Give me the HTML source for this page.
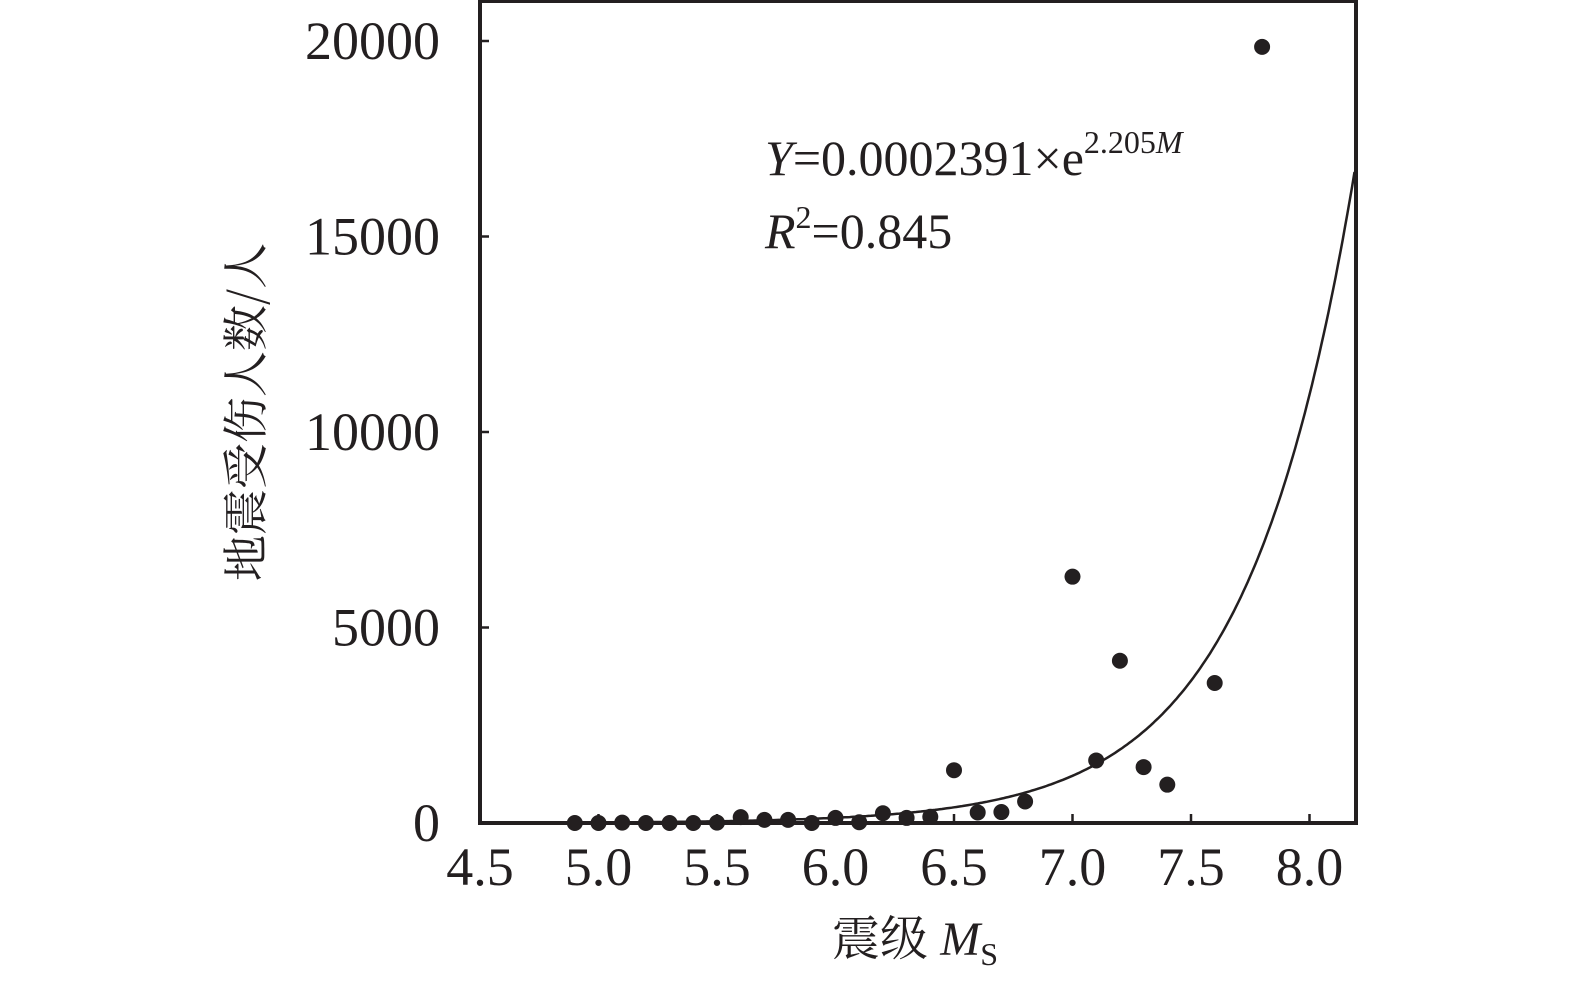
<!DOCTYPE html>
<html><head><meta charset="utf-8"><style>
html,body{margin:0;padding:0;background:#fff;}
svg{display:block;font-family:"Liberation Serif","Noto Serif CJK SC",serif;}
</style></head><body>
<svg id="chart" width="1575" height="988" viewBox="0 0 1575 988">
<g id="axes"></g>
<g id="marks"></g>
<text x="765" y="175" font-size="50" fill="#231f20"><tspan font-style="italic">Y</tspan>=0.0002391×e<tspan font-size="32" dy="-22">2.205<tspan font-style="italic">M</tspan></tspan></text>
<text x="765" y="248" font-size="50" fill="#231f20"><tspan font-style="italic">R</tspan><tspan font-size="32" dy="-20">2</tspan><tspan dy="20">=0.845</tspan></text>
<text transform="translate(262,412) rotate(-90)" text-anchor="middle" font-size="46" fill="#231f20" font-family="'Noto Serif CJK SC',serif">地震受伤人数/人</text>
<text x="915" y="955" text-anchor="middle" font-size="48" fill="#231f20"><tspan font-family="'Noto Serif CJK SC',serif">震级 </tspan><tspan font-style="italic">M</tspan><tspan font-size="32" dy="10">S</tspan></text>
</svg>
<script>
const magnitudes=[4.9,5.0,5.1,5.2,5.3,5.4,5.5,5.6,5.7,5.8,5.9,6.0,6.1,6.2,6.3,6.4,6.5,6.6,6.7,6.8,7.0,7.1,7.2,7.3,7.4,7.6,7.8];
const injuries=[0,0,10,0,0,0,10,150,80,80,0,130,20,250,130,160,1350,270,280,550,6300,1600,4150,1430,980,3580,19850];
const xTicks=[4.5,5.0,5.5,6.0,6.5,7.0,7.5,8.0];
const yTicks=[0,5000,10000,15000,20000];
const fitA=0.0002391, fitB=2.205;
const NS='http://www.w3.org/2000/svg';
const X0=480,X1=1356,Y0=823,Y1=1;
const xmin=4.5,xmax=4.5+(X1-X0)/237, ymax=(Y0-Y1)/0.0391;
const sx=v=>X0+(v-xmin)*237;
const sy=v=>Y0-v*0.0391;
function el(tag,attrs,parent){const e=document.createElementNS(NS,tag);for(const k in attrs)e.setAttribute(k,attrs[k]);parent.appendChild(e);return e;}
const axes=document.getElementById('axes'),marks=document.getElementById('marks');
const frame=el('rect',{x:X0,y:Y1,width:X1-X0,height:Y0-Y1,fill:'none',stroke:'#231f20','stroke-width':4},axes);


xTicks.forEach(t=>{
 const l=el('line',{x1:sx(t),x2:sx(t),y1:Y0,y2:Y0-9,stroke:'#231f20','stroke-width':2.5},axes);
 
 
 const tx=el('text',{x:sx(t),y:885,'text-anchor':'middle','font-size':54,fill:'#231f20'},axes);
 tx.textContent=t.toFixed(1);
 
 
});
yTicks.forEach(t=>{
 const l=el('line',{x1:X0,x2:X0+9,y1:sy(t),y2:sy(t),stroke:'#231f20','stroke-width':2.5},axes);
 
 
 const tx=el('text',{x:440,y:sy(t)+18,'text-anchor':'end','font-size':54,fill:'#231f20'},axes);
 tx.textContent=String(t);
 
 
});
let d='';
for(let m=4.9;m<=xmax+1e-9;m+=0.01){const v=fitA*Math.exp(fitB*m);d+=(d?'L':'M')+sx(m).toFixed(1)+','+sy(v).toFixed(1);}
const curve=el('path',{d:d,fill:'none',stroke:'#231f20','stroke-width':2.5},marks);


magnitudes.forEach((m,i)=>{
 const c=el('circle',{cx:sx(m),cy:sy(injuries[i]),r:8,fill:'#231f20'},marks);
 
 
});
</script>
</body></html>
